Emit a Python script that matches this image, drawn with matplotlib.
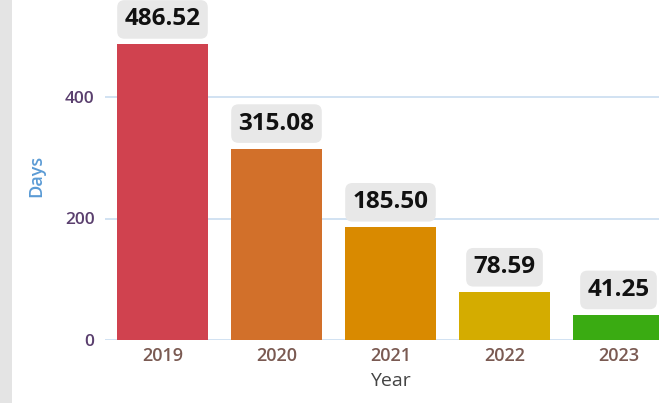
import matplotlib
matplotlib.use("Agg")
import matplotlib.pyplot as plt
from matplotlib.patches import Rectangle

years = ["2019", "2020", "2021", "2022", "2023"]
days = [486.52, 315.08, 185.50, 78.59, 41.25]
labels = ["486.52", "315.08", "185.50", "78.59", "41.25"]
colors = ["#d0424f", "#d2702a", "#d98a00", "#d4ac00", "#3aab12"]
yticks = [0, 200, 400]

plt.rcParams['font.family'] = ['Open Sans', 'DejaVu Sans']

W, H = 659, 403
fig = plt.figure(figsize=(W / 100, H / 100), dpi=100)
fig.patch.set_facecolor("white")
# gray strip at left
fig.patches.append(Rectangle((0, 0), 12 / W, 1, transform=fig.transFigure,
                             facecolor="#e4e4e4", edgecolor="none", zorder=0))

left, right = 105.5, 675.5
bottom, top = 403 - 340, 403
ax = fig.add_axes([left / W, bottom / H, (right - left) / W, (top - bottom) / H])
ax.set_facecolor("none")

x = list(range(len(years)))
bars = ax.bar(x, days, width=0.8, color=colors, zorder=2)
ax.set_xlim(-0.5, len(years) - 0.5)
ax.set_ylim(0, 340 / 0.6075)
ax.set_yticks(yticks)
ax.set_xticks(x)
ax.set_xticklabels(years)

for s in ax.spines.values():
    s.set_visible(False)
ax.grid(axis="y", color="#c9ddf0", linewidth=1.2, zorder=0)
ax.tick_params(axis="both", length=0)
ax.tick_params(axis="y", pad=8, labelsize=12.5, labelcolor="#5a3f6e")
ax.tick_params(axis="x", pad=5, labelsize=13, labelcolor="#7a5a52")
for t in ax.get_xticklabels() + ax.get_yticklabels():
    t.set_fontweight("semibold")

ax.set_xlabel("Year", fontsize=14, color="#444444")
ax.xaxis.set_label_coords(0.5, -32 / 340)
ax.set_ylabel("Days", fontsize=13, color="#5b9bd5", fontweight="semibold")
ax.yaxis.set_label_coords(-(105.5 - 45) / 570, (340 - 176) / 340)

for xi, v, lab in zip(x, days, labels):
    ax.annotate(lab, (xi, v), xytext=(0, 18), textcoords="offset points",
                ha="center", va="center", fontsize=17.5, fontweight="bold",
                color="#111111",
                bbox=dict(boxstyle="round,pad=0.3,rounding_size=0.3",
                          facecolor="#e8e8e8", edgecolor="none"))

fig.savefig("out.png", dpi=100)
